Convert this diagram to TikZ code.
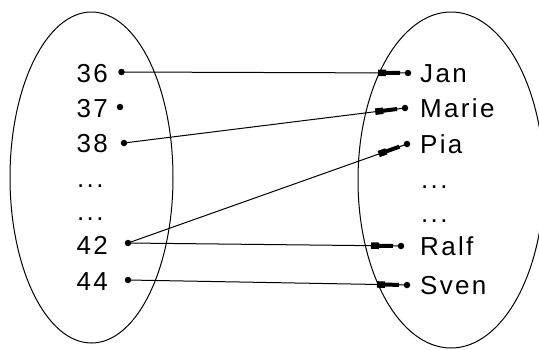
\documentclass[tikz,border=0pt]{standalone}
\usepackage{fontspec}
\setmainfont{Liberation Sans}[LetterSpace=9]
\usetikzlibrary{calc}
\begin{document}
\begin{tikzpicture}[x=1pt,y=-1pt,
  dotnode/.style={circle,fill=black,inner sep=0pt,minimum size=6.5pt},
  lbl/.style={inner sep=0pt,font=\fontsize{26}{30}\selectfont},
  conn/.style={line width=1pt},
  headbar/.style={line width=4pt},
  headblob/.style={line width=6.5pt}]
\useasboundingbox (0,0) rectangle (539,349);
\fill[white] (0,0) rectangle (539,349);
% sets
\draw[line width=1pt] (91.5,177.5) ellipse [x radius=81.5pt, y radius=165.5pt];
\draw[line width=1pt] (451,180) ellipse [x radius=93pt, y radius=168pt];
% left labels
\node[lbl,anchor=base east] (t36) at (108,82) {36};
\node[lbl,anchor=base east] (t37) at (108,117) {37};
\node[lbl,anchor=base east] (t38) at (108,152) {38};
\node[lbl,anchor=base west] (td1) at (77,187) {...};
\node[lbl,anchor=base west] (td2) at (77,220) {...};
\node[lbl,anchor=base east] (t42) at (108,254) {42};
\node[lbl,anchor=base east] (t44) at (108,290) {44};
% right labels
\node[lbl,anchor=base west] (tJan) at (420,82) {Jan};
\node[lbl,anchor=base west] (tMarie) at (420,117) {Marie};
\node[lbl,anchor=base west] (tPia) at (420,153) {Pia};
\node[lbl,anchor=base west] (te1) at (421,188) {...};
\node[lbl,anchor=base west] (te2) at (421,222) {...};
\node[lbl,anchor=base west] (tRalf) at (420,255) {Ralf};
\node[lbl,anchor=base west] (tSven) at (420,294) {Sven};
% dots
\node[dotnode] (a36) at (121.5,72) {};
\node[dotnode] (a37) at (120,107) {};
\node[dotnode] (a38) at (124,143) {};
\node[dotnode] (a42) at (128,243) {};
\node[dotnode] (a44) at (128,280) {};
\node[dotnode] (bJan) at (408,73) {};
\node[dotnode] (bMarie) at (405,108) {};
\node[dotnode] (bPia) at (407,144) {};
\node[dotnode] (bRalf) at (401,246) {};
\node[dotnode] (bSven) at (407,285) {};
% connectors
\foreach \s/\t in {a36/bJan,a38/bMarie,a42/bPia,a42/bRalf,a44/bSven}{
  \draw[conn] (\s.center) -- (\t.center);
  \draw[headbar] ($(\t.center)!29pt!(\s.center)$) -- ($(\t.center)!8pt!(\s.center)$);
  \draw[headblob] ($(\t.center)!30pt!(\s.center)$) -- ($(\t.center)!22pt!(\s.center)$);
}
\end{tikzpicture}
\end{document}
